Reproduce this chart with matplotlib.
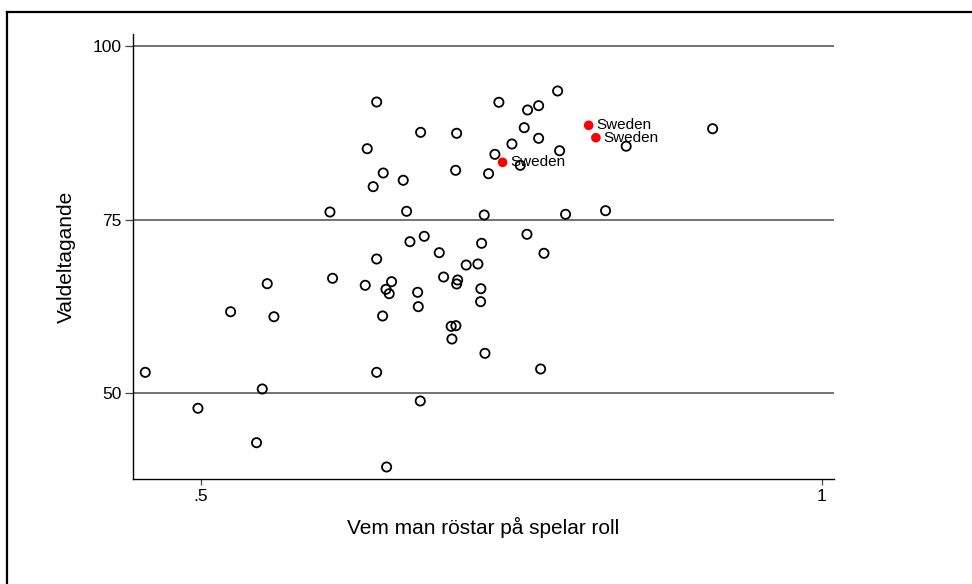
import matplotlib.pyplot as plt
from matplotlib.lines import Line2D

# Data
x_other = [0.4552, 0.4976, 0.5239, 0.5448, 0.5494, 0.5534, 0.5588, 0.6039, 0.6060, 0.6323,
           0.6339, 0.6387, 0.6415, 0.6415, 0.6415, 0.6463, 0.6468, 0.6490, 0.6516, 0.6535,
           0.6495, 0.6629, 0.6656, 0.6683, 0.6745, 0.6750, 0.6766, 0.6769, 0.6798, 0.6919,
           0.6954, 0.7015, 0.7053, 0.7021, 0.7051, 0.7059, 0.7067, 0.7059, 0.7136, 0.7230,
           0.7254, 0.7252, 0.7260, 0.7281, 0.7287, 0.7316, 0.7367, 0.7399, 0.7504, 0.7571,
           0.7603, 0.7625, 0.7630, 0.7719, 0.7719, 0.7735, 0.7762, 0.7872, 0.7888, 0.7936,
           0.8258, 0.8424, 0.9120]
y_other = [52.98, 47.80, 61.71, 42.84, 50.58, 65.75, 60.99, 76.08, 66.53, 65.52,
           85.20, 79.73, 91.93, 69.31, 52.98, 61.10, 81.70, 64.94, 64.31, 66.04,
           39.34, 80.65, 76.18, 71.80, 64.51, 62.44, 48.85, 87.56, 72.58, 70.22,
           66.71, 59.61, 59.70, 57.78, 82.09, 87.42, 66.28, 65.71, 68.44, 68.59,
           65.03, 63.16, 71.57, 75.65, 55.72, 81.60, 84.39, 91.89, 85.88, 82.81,
           88.23, 72.87, 90.78, 91.40, 86.70, 53.46, 70.13, 93.52, 84.91, 75.75,
           76.27, 85.56, 88.08]

x_swe = [0.7429, 0.8122, 0.8180]
y_swe = [83.24, 88.57, 86.79]
swe_labels = ['Sweden', 'Sweden', 'Sweden']

plt.rcParams['font.family'] = ['Liberation Sans', 'DejaVu Sans']

fig = plt.figure(figsize=(9.72, 5.84), dpi=100)
ax = fig.add_axes([0.1368, 0.1798, 0.7212, 0.762])

# horizontal grid at the y ticks
for yv in [50, 75, 100]:
    ax.axhline(yv, color='#5a5a5a', lw=1.2, zorder=1)

ax.scatter(x_other, y_other, s=44, facecolors='none', edgecolors='black',
           linewidths=1.3, zorder=3)
ax.scatter(x_swe, y_swe, s=48, color='red', edgecolors='none', zorder=3)
for xv, yv, lab in zip(x_swe, y_swe, swe_labels):
    ax.annotate(lab, (xv, yv), xytext=(5.5, 0), textcoords='offset points',
                va='center', ha='left', fontsize=11, zorder=4)

ax.set_xlim(0.4453, 1.0097)
ax.set_ylim(37.61, 101.73)
ax.set_xticks([0.5, 1])
ax.set_xticklabels(['.5', '1'])
ax.set_yticks([50, 75, 100])
ax.set_yticklabels(['50', '75', '100'])

for s in ['top', 'right']:
    ax.spines[s].set_visible(False)
for s in ['left', 'bottom']:
    ax.spines[s].set_linewidth(1.0)

ax.tick_params(axis='x', length=4.5, width=0.9, labelsize=12.5, pad=3, color='#444444')
ax.tick_params(axis='y', length=6, width=0.9, labelsize=12.5, pad=2, color='#444444')

ax.set_xlabel('Vem man röstar på spelar roll', fontsize=15, labelpad=9)
ax.set_ylabel('Valdeltagande', fontsize=15, labelpad=12)

# outer frame (cropped graph border)
fig.add_artist(Line2D([6.5 / 972, 6.5 / 972], [0, 1 - 12 / 584], color='black', lw=1.6))
fig.add_artist(Line2D([6.5 / 972, 1], [1 - 12 / 584, 1 - 12 / 584], color='black', lw=1.6))

fig.savefig('out.png', dpi=100, facecolor='white')
